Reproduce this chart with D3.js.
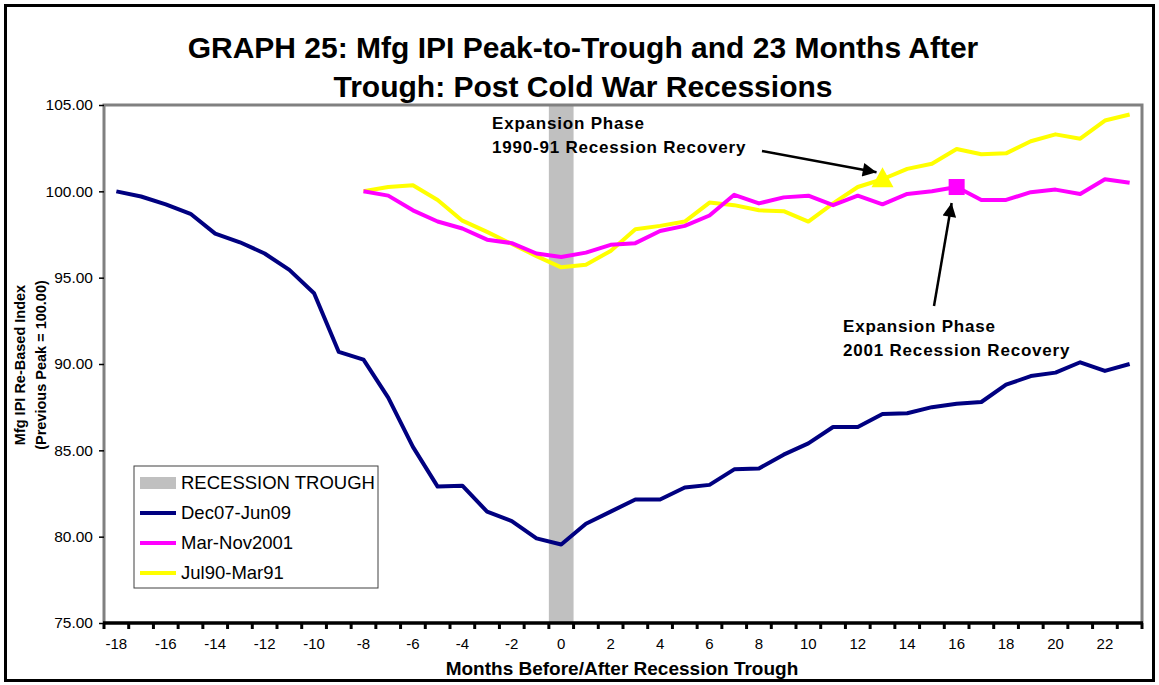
<!DOCTYPE html>
<html>
<head>
<meta charset="utf-8">
<script src="https://cdn.jsdelivr.net/npm/d3@7"></script>
<style>
  body { margin: 0; background: #fff; }
  text { font-family: "Liberation Sans", Arial, sans-serif; }
</style>
</head>
<body>
<div id="chart"></div>
<script>
// months before / after the recession trough
var months = [-18, -17, -16, -15, -14, -13, -12, -11, -10, -9, -8, -7, -6, -5, -4, -3, -2, -1,
  0, 1, 2, 3, 4, 5, 6, 7, 8, 9, 10, 11, 12, 13, 14, 15, 16, 17, 18, 19, 20, 21, 22, 23];
var troughMonth = 0;

// Dec07-Jun09, starts 18 months before trough
var dec07 = [100.0, 99.7, 99.25, 98.7, 97.55, 97.05, 96.4, 95.45, 94.1, 90.7, 90.25, 88.05,
  85.2, 82.9, 82.95, 81.45, 80.9, 79.9, 79.55, 80.75, 81.45, 82.15, 82.15, 82.85, 83.0, 83.9,
  83.95, 84.75, 85.4, 86.35, 86.35, 87.1, 87.15, 87.5, 87.7, 87.8, 88.8, 89.3, 89.5, 90.1, 89.6, 90.0];

// the two shorter recessions start 8 months before trough
var shortStart = -8;
var mar01 = [100.0, 99.75, 98.9, 98.25, 97.85, 97.2, 97.0, 96.4, 96.2, 96.45, 96.9, 97.0,
  97.7, 98.0, 98.6, 99.8, 99.3, 99.65, 99.75, 99.2, 99.75, 99.25, 99.85, 100.0, 100.25, 99.5,
  99.5, 99.95, 100.1, 99.85, 100.7, 100.5];
var jul90 = [100.0, 100.25, 100.35, 99.5, 98.3, 97.65, 96.95, 96.25, 95.6, 95.75, 96.55, 97.8,
  98.0, 98.25, 99.35, 99.2, 98.9, 98.85, 98.25, 99.3, 100.25, 100.7, 101.3, 101.6, 102.45, 102.15,
  102.2, 102.9, 103.3, 103.05, 104.1, 104.45];

var yTicks = [75, 80, 85, 90, 95, 100, 105];
var xLabels = [-18, -16, -14, -12, -10, -8, -6, -4, -2, 0, 2, 4, 6, 8, 10, 12, 14, 16, 18, 20, 22];

var markJul90 = 13;   // triangle, 1990-91 recovery
var markMar01 = 16;   // square, 2001 recovery

var W = 1159, H = 685;
var plot = {left: 104, right: 1142, top: 105, bottom: 623};

var svg = d3.select("#chart").append("svg")
    .attr("width", W)
    .attr("height", H);

svg.append("defs").append("marker")
    .attr("id", "head")
    .attr("viewBox", "0 0 10 10")
    .attr("refX", 10).attr("refY", 5)
    .attr("markerWidth", 7).attr("markerHeight", 5.5)
    .attr("markerUnits", "strokeWidth")
    .attr("orient", "auto")
    .append("path").attr("d", "M0,0 L10,5 L0,10 z").attr("fill", "#000");

// outer frame
svg.append("rect")
    .attr("x", 5.5).attr("y", 5.5)
    .attr("width", W - 11).attr("height", H - 10)
    .attr("fill", "#fff")
    .attr("stroke", "#000").attr("stroke-width", 3);

// scales
var x = d3.scaleBand()
    .domain(months)
    .range([plot.left, plot.right])
    .padding(0);
var y = d3.scaleLinear()
    .domain([75, 105])
    .range([plot.bottom, plot.top]);
var cx = function(m) { return x(m) + x.bandwidth() / 2; };

// recession trough column
svg.append("rect")
    .attr("x", x(troughMonth))
    .attr("y", y(105))
    .attr("width", x.bandwidth())
    .attr("height", y(75) - y(105))
    .attr("fill", "#c0c0c0");

// plot area frame (top / right / left in grey)
svg.append("path")
    .attr("d", "M" + plot.left + "," + plot.bottom + " V" + plot.top + " H" + plot.right + " V" + plot.bottom)
    .attr("fill", "none")
    .attr("stroke", "#808080")
    .attr("stroke-width", 3);

// y axis
var yAxis = svg.append("g")
    .attr("transform", "translate(" + plot.left + ",0)")
    .call(d3.axisLeft(y).tickValues(yTicks).tickSize(5).tickPadding(6)
        .tickFormat(d3.format(".2f")));
yAxis.select(".domain").remove();
yAxis.selectAll("line").attr("stroke", "#000").attr("stroke-width", 1.5);
yAxis.selectAll("text").style("font-size", "15.5px").attr("fill", "#000")
    .style("font-family", "'Liberation Sans', Arial, sans-serif");

// x axis: labels at category centres, tick marks on category boundaries
var xAxis = svg.append("g")
    .attr("transform", "translate(0," + plot.bottom + ")")
    .call(d3.axisBottom(x).tickValues(xLabels).tickSize(0).tickPadding(15));
xAxis.select(".domain").remove();
xAxis.selectAll("text").style("font-size", "15px").attr("fill", "#000")
    .style("font-family", "'Liberation Sans', Arial, sans-serif");

svg.append("g").selectAll("line")
    .data(months.concat([null]))
    .enter().append("line")
    .attr("x1", function(d, i) { return plot.left + i * x.step(); })
    .attr("x2", function(d, i) { return plot.left + i * x.step(); })
    .attr("y1", plot.bottom)
    .attr("y2", plot.bottom + 6)
    .attr("stroke", "#000")
    .attr("stroke-width", 3);

svg.append("line")
    .attr("x1", plot.left - 1).attr("x2", plot.right + 1)
    .attr("y1", plot.bottom).attr("y2", plot.bottom)
    .attr("stroke", "#000").attr("stroke-width", 3.5);

// lines
var line = d3.line()
    .x(function(d) { return cx(d[0]); })
    .y(function(d) { return y(d[1]); });

var shortMonths = months.filter(function(m) { return m >= shortStart; });
var series = [
  {name: "Jul90-Mar91", color: "#ffff00", pts: d3.zip(shortMonths, jul90)},
  {name: "Mar-Nov2001", color: "#ff00ff", pts: d3.zip(shortMonths, mar01)},
  {name: "Dec07-Jun09", color: "#000080", pts: d3.zip(months, dec07)}
];

svg.append("g").selectAll("path")
    .data(series)
    .enter().append("path")
    .attr("d", function(d) { return line(d.pts); })
    .attr("fill", "none")
    .attr("stroke", function(d) { return d.color; })
    .attr("stroke-width", 4)
    .attr("stroke-linejoin", "round");

// markers
var triX = cx(markJul90), triY = y(jul90[shortMonths.indexOf(markJul90)]);
svg.append("path")
    .attr("d", "M" + triX + "," + (triY - 12) + " L" + (triX + 11) + "," + (triY + 8) + " L" + (triX - 11) + "," + (triY + 8) + " z")
    .attr("fill", "#ffff00");

var sqX = cx(markMar01), sqY = y(mar01[shortMonths.indexOf(markMar01)]);
svg.append("rect")
    .attr("x", sqX - 8).attr("y", sqY - 8)
    .attr("width", 16).attr("height", 16)
    .attr("fill", "#ff00ff");

// annotations
function note(x0, y0, lines) {
  var t = svg.append("text")
      .attr("x", x0).attr("y", y0)
      .style("font-size", "17px")
      .style("font-weight", "bold")
      .style("letter-spacing", "0.8px")
      .attr("fill", "#000");
  lines.forEach(function(s, i) {
    t.append("tspan").attr("x", x0).attr("dy", i ? 24 : 0).text(s);
  });
}
note(492, 129, ["Expansion Phase", "1990-91 Recession Recovery"]);
note(843, 332, ["Expansion Phase", "2001 Recession Recovery"]);

svg.append("line")
    .attr("x1", 762).attr("y1", 151)
    .attr("x2", triX - 6).attr("y2", triY - 7)
    .attr("stroke", "#000").attr("stroke-width", 2.5)
    .attr("marker-end", "url(#head)");
svg.append("line")
    .attr("x1", 934).attr("y1", 306)
    .attr("x2", sqX - 5).attr("y2", sqY + 16)
    .attr("stroke", "#000").attr("stroke-width", 2.5)
    .attr("marker-end", "url(#head)");

// legend
var legend = svg.append("g").attr("transform", "translate(134,466)");
legend.append("rect")
    .attr("width", 244).attr("height", 122)
    .attr("fill", "#fff")
    .attr("stroke", "#404040").attr("stroke-width", 1);
var legItems = [{name: "RECESSION TROUGH", color: "#c0c0c0", bar: true}]
    .concat(series.slice().reverse());
var li = legend.selectAll(".li")
    .data(legItems)
    .enter().append("g")
    .attr("class", "li")
    .attr("transform", function(d, i) { return "translate(0," + (17 + i * 30) + ")"; });
li.append("rect")
    .attr("x", 6)
    .attr("y", function(d) { return d.bar ? -6 : -2; })
    .attr("width", 36)
    .attr("height", function(d) { return d.bar ? 12 : 4; })
    .attr("fill", function(d) { return d.color; });
li.append("text")
    .attr("x", 47)
    .attr("y", 6)
    .style("font-size", "18.5px")
    .attr("fill", "#000")
    .text(function(d) { return d.name; });

// titles
svg.append("text")
    .attr("x", 583).attr("y", 58)
    .attr("text-anchor", "middle")
    .style("font-size", "30px").style("font-weight", "bold")
    .text("GRAPH 25: Mfg IPI Peak-to-Trough and 23 Months After");
svg.append("text")
    .attr("x", 583).attr("y", 97)
    .attr("text-anchor", "middle")
    .style("font-size", "30px").style("font-weight", "bold")
    .text("Trough: Post Cold War Recessions");

svg.append("text")
    .attr("x", 622).attr("y", 675)
    .attr("text-anchor", "middle")
    .style("font-size", "19px").style("font-weight", "bold")
    .text("Months Before/After Recession Trough");

var yt = svg.append("text")
    .attr("transform", "translate(25,365) rotate(-90)")
    .attr("text-anchor", "middle")
    .style("font-size", "14.5px").style("font-weight", "bold");
yt.append("tspan").attr("x", 0).attr("dy", 0).text("Mfg IPI Re-Based Index");
yt.append("tspan").attr("x", 0).attr("dy", 21).text("(Previous Peak = 100.00)");
</script>
</body>
</html>
